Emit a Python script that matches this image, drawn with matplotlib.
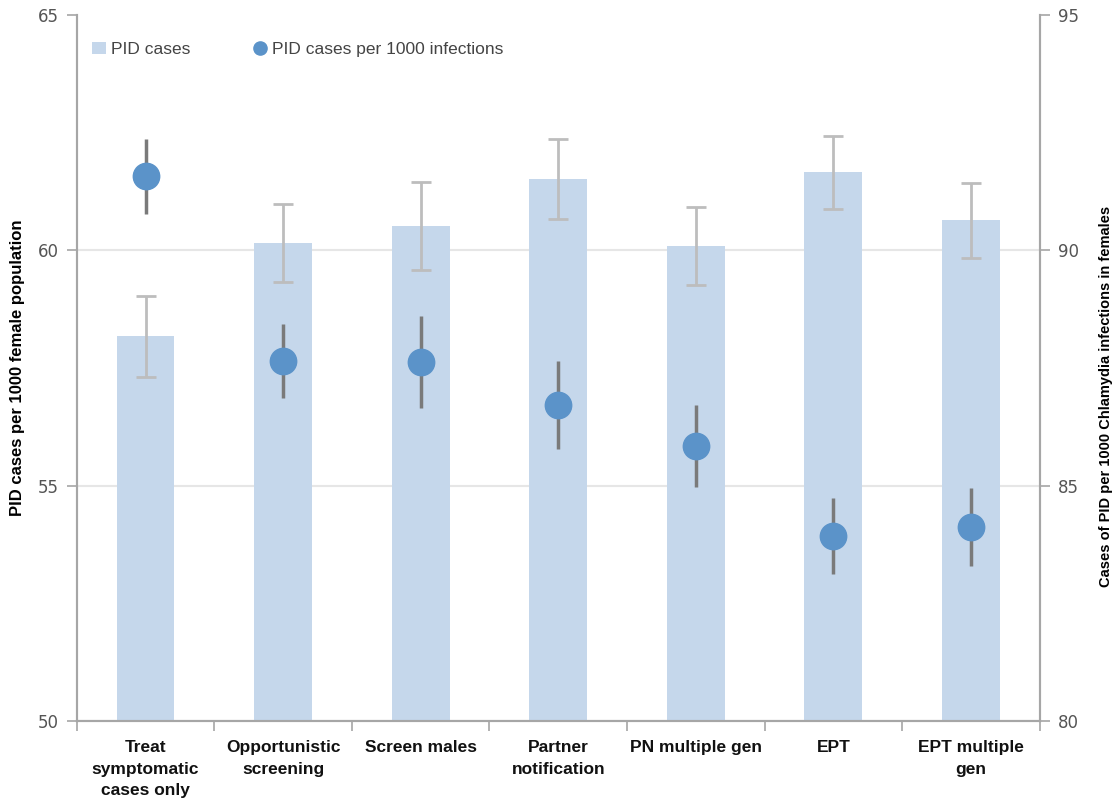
import matplotlib.pyplot as plt
import numpy as np

categories = ["Treat\nsymptomatic\ncases only", "Opportunistic\nscreening", "Screen males",
              "Partner\nnotification", "PN multiple gen", "EPT", "EPT multiple\ngen"]
pid_cases = [58.18, 60.15, 60.52, 61.52, 60.09, 61.66, 60.64]
pid_cases_err = [0.86, 0.83, 0.93, 0.85, 0.83, 0.77, 0.80]
pid_per_1000 = [91.58, 87.65, 87.63, 86.71, 85.84, 83.93, 84.12]
pid_per_1000_err = [0.80, 0.78, 0.97, 0.93, 0.88, 0.80, 0.82]

bar_color = '#c5d7eb'
dot_color = '#5b93c9'
spine_color = '#a6a6a6'
narrow = ['Liberation Sans Narrow', 'Liberation Sans', 'DejaVu Sans']

fig, ax = plt.subplots(figsize=(11.12, 8.08), dpi=100)
fig.subplots_adjust(left=0.069, right=0.935, top=0.981, bottom=0.108)
ax2 = ax.twinx()

x = np.arange(len(categories))
ax.bar(x, pid_cases, width=0.42, color=bar_color, label='PID cases', zorder=2)
ax.errorbar(x, pid_cases, yerr=pid_cases_err, fmt='none', ecolor='#bdbdbd',
            elinewidth=2, capsize=7, capthick=2, zorder=3)

ax2.errorbar(x, pid_per_1000, yerr=pid_per_1000_err, fmt='none', ecolor='#7a7a7a',
             elinewidth=2.5, zorder=3)
ax2.plot(x, pid_per_1000, 'o', color=dot_color, markersize=19, zorder=4,
         label='PID cases per 1000 infections')

ax.set_xlim(-0.5, len(categories) - 0.5)
ax.set_ylim(50, 65)
ax2.set_ylim(80, 95)
ax.set_yticks([50, 55, 60, 65])
ax2.set_yticks([80, 85, 90, 95])

ax.yaxis.grid(True, color='#e6e6e6', linewidth=1.5, zorder=0)
ax.set_axisbelow(True)
ax.get_ygridlines()[-1].set_visible(False)

for a in (ax, ax2):
    a.spines['top'].set_visible(False)
    for side in ('left', 'right', 'bottom'):
        a.spines[side].set_color(spine_color)
        a.spines[side].set_linewidth(1.5)
    a.tick_params(axis='y', colors=spine_color, length=7, width=1.2, labelsize=12,
                  labelcolor='#555555', pad=6)

ax.set_xticks(x)
ax.set_xticklabels(categories, fontsize=12.5, fontweight='bold', family=narrow,
                   color='#111111', linespacing=1.55)
ax.tick_params(axis='x', length=0, pad=14)
ax.set_xticks(np.arange(-0.5, len(categories)), minor=True)
ax.tick_params(axis='x', which='minor', length=7, width=1.2, colors=spine_color)

ax.set_ylabel('PID cases per 1000 female population', fontsize=12, fontweight='bold',
              family=narrow, labelpad=9)
ax2.set_ylabel('Cases of PID per 1000 Chlamydia infections in females', fontsize=10.5,
               fontweight='bold', family=narrow, labelpad=9)
ax2.yaxis.set_label_coords(1.062, 0.46)

h1, l1 = ax.get_legend_handles_labels()
h2, l2 = ax2.get_legend_handles_labels()
leg = ax2.legend(h1 + h2, l1 + l2, loc='upper left', ncol=2, frameon=False,
                 handlelength=0.8, handletextpad=0.3, columnspacing=3.6,
                 markerscale=0.5, bbox_to_anchor=(0.0, 0.985),
                 prop={'family': narrow, 'size': 12.5})
for t in leg.get_texts():
    t.set_color('#444444')

fig.savefig('out.png', dpi=100)
